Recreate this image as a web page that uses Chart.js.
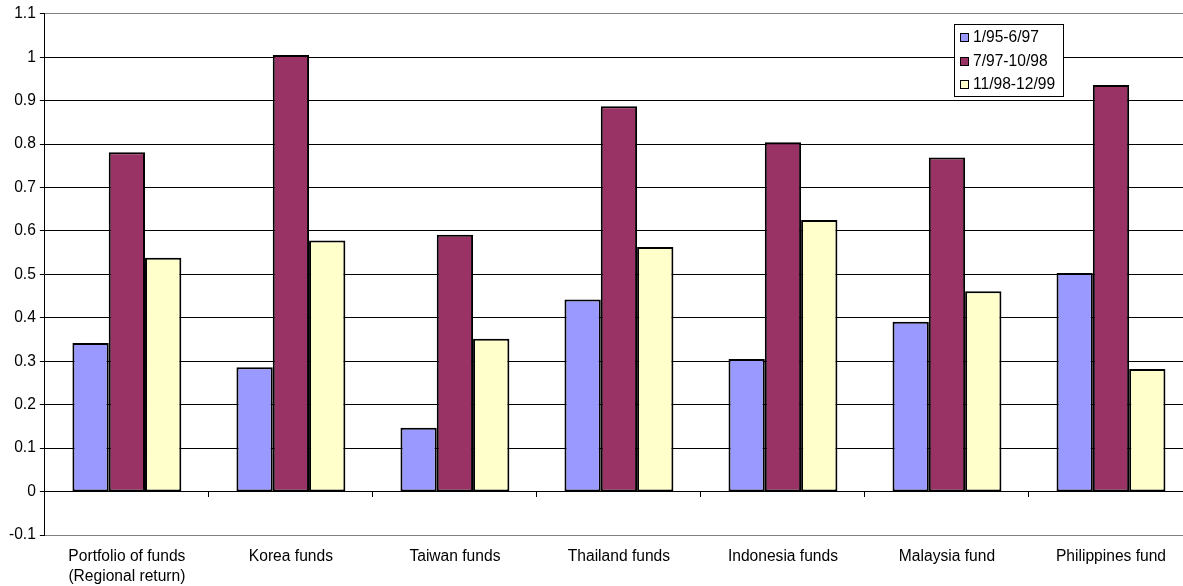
<!DOCTYPE html>
<html>
<head>
<meta charset="utf-8">
<script src="https://cdn.jsdelivr.net/npm/chart.js@4/dist/chart.umd.min.js"></script>
<style>
    html, body { margin: 0; padding: 0; background: #fff; overflow: hidden; }
    #wrap { width: 1195px; height: 586px; position: relative; }
</style>
</head>
<body>
<div id="wrap"><canvas id="fundChart"></canvas></div>
<script>
// Chart data
const categories = [
    ["Portfolio of funds", "(Regional return)"],
    "Korea funds",
    "Taiwan funds",
    "Thailand funds",
    "Indonesia funds",
    "Malaysia fund",
    "Philippines fund"
];
const seriesNames = ["1/95-6/97", "7/97-10/98", "11/98-12/99"];
const period1 = [0.342, 0.286, 0.147, 0.442, 0.305, 0.391, 0.503];
const period2 = [0.781, 1.005, 0.591, 0.887, 0.804, 0.769, 0.936];
const period3 = [0.538, 0.578, 0.352, 0.563, 0.625, 0.461, 0.282];
const yMin = -0.1;
const yMax = 1.1;
const yStep = 0.1;

const seriesColors = ["#9999FF", "#993366", "#FFFFCC"];
const labelFont = { family: "'Liberation Sans', Arial, sans-serif", size: 15.6, lineHeight: 1.25 };

// Legend box drawn inside the plot, top right
const boxLegend = {
    id: "boxLegend",
    afterDraw(chart) {
        let ctx = chart.ctx;
        let area = chart.chartArea;
        let w = 109, h = 72;
        let x = Math.round(area.right - 239);
        let y = Math.round(area.top + 10);

        ctx.save();
        ctx.fillStyle = "#fff";
        ctx.fillRect(x, y, w, h);
        ctx.strokeStyle = "#000";
        ctx.lineWidth = 1;
        ctx.strokeRect(x + 0.5, y + 0.5, w, h);

        ctx.font = "15.6px 'Liberation Sans', Arial, sans-serif";
        ctx.textBaseline = "middle";
        chart.data.datasets.forEach((ds, i) => {
            let cy = y + 13 + i * 23.5;
            ctx.fillStyle = ds.backgroundColor;
            ctx.fillRect(x + 6, Math.round(cy - 4), 8, 8);
            ctx.strokeStyle = "#000";
            ctx.strokeRect(x + 6.5, Math.round(cy - 4) + 0.5, 8, 8);
            ctx.fillStyle = "#000";
            ctx.fillText(ds.label, x + 19, cy + 1);
        });
        ctx.restore();
    }
};

let ctx = document.getElementById("fundChart").getContext("2d");
window.myChart = new Chart(ctx, {
    type: "bar",
    data: {
        labels: categories,
        datasets: [period1, period2, period3].map((values, i) => ({
            label: seriesNames[i],
            data: values,
            backgroundColor: seriesColors[i],
            borderColor: "#000",
            borderWidth: 2,
            borderSkipped: false,
            xAxisID: "x"
        }))
    },
    options: {
        responsive: true,
        maintainAspectRatio: false,
        animation: false,
        categoryPercentage: 0.664,
        barPercentage: 1,
        layout: { padding: { top: 5, left: 5, right: 2, bottom: -12 } },
        plugins: {
            legend: { display: false },
            tooltip: { enabled: false }
        },
        scales: {
            // axis line and tick marks sitting on the zero line
            x: {
                position: { y: 0 },
                grid: {
                    offset: true,
                    drawOnChartArea: false,
                    drawTicks: true,
                    tickLength: 5,
                    color: "#000"
                },
                border: { color: "#000", width: 1 },
                ticks: { display: false }
            },
            // category labels under the plot
            x2: {
                type: "category",
                labels: categories,
                position: "bottom",
                grid: { display: false, drawTicks: false },
                border: { display: false },
                ticks: {
                    autoSkip: false,
                    maxRotation: 0,
                    padding: 12,
                    color: "#000",
                    font: labelFont
                }
            },
            y: {
                min: yMin,
                max: yMax,
                ticks: {
                    stepSize: yStep,
                    color: "#000",
                    font: labelFont,
                    padding: 4,
                    callback: value => String(Math.round(value * 10) / 10)
                },
                grid: {
                    color: c => (c.index === 0 || c.tick && Math.abs(c.tick.value - yMax) < 1e-6) ? "#808080" : "#000",
                    lineWidth: 1,
                    tickLength: 5,
                    tickColor: "#000"
                },
                border: { color: "#000", width: 1 }
            }
        }
    },
    plugins: [boxLegend]
});
</script>
</body>
</html>
